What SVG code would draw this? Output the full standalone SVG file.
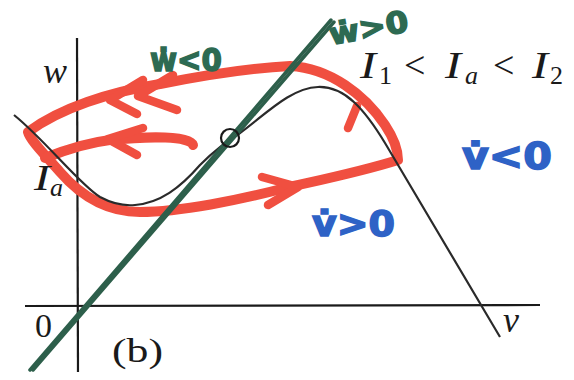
<svg xmlns="http://www.w3.org/2000/svg" width="574" height="380" viewBox="0 0 574 380">
<style>
.ax{stroke:#1a1a1a;stroke-width:2.2;fill:none}
.curve{stroke:#2a2a2a;stroke-width:2.2;fill:none;stroke-linejoin:round}
.green{stroke:#2d5f4b;stroke-width:3.5;fill:none;stroke-linecap:round}
.red{stroke:#f04f40;stroke-width:10;fill:none;stroke-linecap:round;stroke-linejoin:round}
.redarr{stroke:#f04f40;stroke-width:8.5;fill:none;stroke-linecap:round;stroke-linejoin:round}
.math{font-family:"Liberation Serif",serif;font-style:italic;fill:#1a1a1a}
.rom{font-family:"Liberation Serif",serif;fill:#1a1a1a}
.hw{font-family:"DejaVu Sans",sans-serif;font-weight:bold}
.hwg{fill:#2d6a52;stroke:#2d6a52;stroke-width:1.5}
.hwb{fill:#2e62c6;stroke:#2e62c6;stroke-width:1.5}
</style>
<rect width="574" height="380" fill="#ffffff"/>
<g id="axes">
  <line class="ax" x1="77" y1="38" x2="78" y2="372"/>
  <line class="ax" x1="25" y1="306" x2="540" y2="305"/>
</g>
<g id="trajectory">
  <path class="red" d="M290,66 C330,68 365,95 385,125 C395,140 398,152 398,160 C360,172 320,180 285,188 C240,200 180,212 140,212 C105,212 80,195 60,172 C45,155 30,140 28,132 C60,108 110,92 160,84 C200,76 250,68 290,66 Z"/>
  <path class="red" d="M193,145 C190,136 150,136 110,140 C85,143 65,150 45,158"/>
  <path class="redarr" d="M143,80 L110,100 L137,114"/>
  <path class="redarr" d="M173,75 L138,96 L177,110"/>
  <path class="redarr" d="M143,128 L108,139 L137,155"/>
  <path class="redarr" d="M262,177 L298,187 L268,205"/>
  <path class="redarr" d="M348,128 L357,106"/>
</g>
<g id="nullcline-v">
  <path class="curve" d="M14,115 C45,140 80,185 100,197 C115,205 125,206 135,205 C160,203 180,188 200,165 C215,150 225,143 240,133 C265,115 290,88 318,87 C345,86 365,110 385,143 L500,337"/>
</g>
<g id="nullcline-w">
  <line class="green" x1="30" y1="370" x2="331" y2="20"/>
  <line class="green" x1="33" y1="370" x2="334" y2="22" stroke-width="2"/>
</g>
<g id="equilibrium">
  <circle cx="230" cy="138" r="9" fill="none" stroke="#1a1a1a" stroke-width="2.2"/>
</g>
<g id="labels">
  <text class="math" x="34" y="190" font-size="36" textLength="16" lengthAdjust="spacingAndGlyphs">I</text>
  <text class="math" x="43" y="83" font-size="36">w</text>
  <text class="math" x="50" y="196" font-size="26">a</text>
  <text class="rom" x="35" y="337" font-size="34">0</text>
  <text class="rom" x="112" y="362" font-size="34" textLength="51" lengthAdjust="spacingAndGlyphs">(b)</text>
  <text class="math" x="503" y="332" font-size="36">v</text>
  <text class="math" x="360" y="78" font-size="38" textLength="16" lengthAdjust="spacingAndGlyphs">I</text>
  <text class="rom" x="379" y="84" font-size="26">1</text>
  <text class="rom" x="404" y="78" font-size="38">&lt;</text>
  <text class="math" x="445" y="78" font-size="38" textLength="16" lengthAdjust="spacingAndGlyphs">I</text>
  <text class="math" x="465" y="84" font-size="26">a</text>
  <text class="rom" x="493" y="78" font-size="38">&lt;</text>
  <text class="math" x="532" y="78" font-size="38" textLength="16" lengthAdjust="spacingAndGlyphs">I</text>
  <text class="rom" x="550" y="84" font-size="26">2</text>
</g>
<g id="handwritten">
  <text class="hw hwg" x="150" y="71" font-size="32" textLength="72" lengthAdjust="spacingAndGlyphs">ẇ&lt;0</text>
  <text class="hw hwg" x="331" y="45" font-size="30" textLength="80" lengthAdjust="spacingAndGlyphs" transform="rotate(-10 331 45)">ẇ&gt;0</text>
  <text class="hw hwb" x="462" y="169" font-size="38" textLength="90" lengthAdjust="spacingAndGlyphs">v̇&lt;0</text>
  <text class="hw hwb" x="312" y="236" font-size="36" textLength="83" lengthAdjust="spacingAndGlyphs">v̇&gt;0</text>
</g>
</svg>
